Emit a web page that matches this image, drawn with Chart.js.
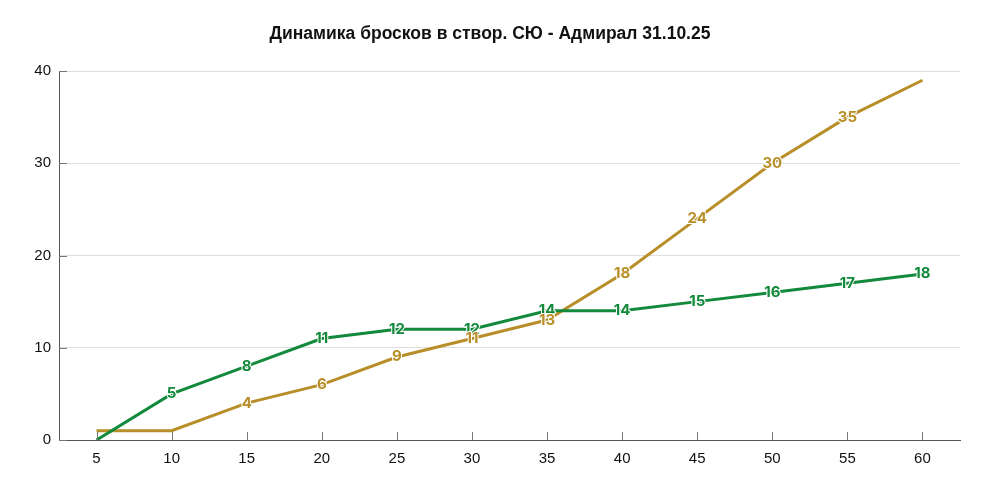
<!DOCTYPE html>
<html>
<head>
<meta charset="utf-8">
<script src="https://cdn.jsdelivr.net/npm/chart.js@4.4.0/dist/chart.umd.min.js"></script>
<style>
  html, body { margin: 0; padding: 0; background: #fff; }
  #wrap { width: 984px; height: 492px; }
</style>
</head>
<body>
<div id="wrap"><canvas id="canvas"></canvas></div>
<script>
// minutes
const minutes = ['5', '10', '15', '20', '25', '30', '35', '40', '45', '50', '55', '60'];
// shots on target, cumulative
const shotsSU = [0, 5, 8, 11, 12, 12, 14, 14, 15, 16, 17, 18];
const shotsAdmiral = [1, 1, 4, 6, 9, 11, 13, 18, 24, 30, 35, 39];
// which points get a value label
const labelsSU = [null, 5, 8, 11, 12, 12, 14, 14, 15, 16, 17, 18];
const labelsAdmiral = [null, null, 4, 6, 9, 11, 13, 18, 24, 30, 35, null];
const yTicks = [0, 10, 20, 30, 40];
const titleText = 'Динамика бросков в створ. СЮ - Адмирал 31.10.25';

const green = '#12893b';
const gold = '#b88e28';

// title centred on the whole canvas, not on the plot
const pageTitle = {
    id: 'pageTitle',
    afterDraw(chart) {
        const ctx = chart.ctx;
        ctx.save();
        ctx.font = 'bold 17.5px "Liberation Sans"';
        ctx.fillStyle = '#111';
        ctx.textAlign = 'center';
        ctx.textBaseline = 'middle';
        ctx.fillText(titleText, 490, 34);
        ctx.restore();
    }
};

// short tick marks drawn inside the plot area
const innerTicks = {
    id: 'innerTicks',
    afterDatasetsDraw(chart) {
        const ctx = chart.ctx;
        const x = chart.scales.x, y = chart.scales.y;
        const a = chart.chartArea;
        ctx.save();
        ctx.strokeStyle = '#777';
        ctx.lineWidth = 1;
        ctx.beginPath();
        minutes.forEach((m, i) => {
            const px = Math.round(x.getPixelForValue(i)) + 0.5;
            ctx.moveTo(px, a.bottom);
            ctx.lineTo(px, a.bottom - 8);
        });
        yTicks.forEach(v => {
            const py = Math.round(y.getPixelForValue(v)) + 0.5;
            ctx.moveTo(a.left, py);
            ctx.lineTo(a.left + 8, py);
        });
        ctx.stroke();
        ctx.restore();
    }
};

const valueLabels = {
    id: 'valueLabels',
    afterDatasetsDraw(chart) {
        const ctx = chart.ctx;
        const sets = [labelsSU, labelsAdmiral];
        ctx.save();
        ctx.font = 'bold 15px Inter';
        ctx.textAlign = 'center';
        ctx.textBaseline = 'middle';
        ctx.lineJoin = 'round';
        chart.data.datasets.forEach((ds, di) => {
            const meta = chart.getDatasetMeta(di);
            meta.data.forEach((pt, i) => {
                const t = sets[di][i];
                if (t === null) return;
                ctx.lineWidth = 2;
                ctx.strokeStyle = '#fff';
                ctx.strokeText(String(t), pt.x, pt.y);
                ctx.fillStyle = ds.borderColor;
                ctx.fillText(String(t), pt.x, pt.y);
            });
        });
        ctx.restore();
    }
};

const ctx = document.getElementById('canvas').getContext('2d');
const myChart = new Chart(ctx, {
    type: 'line',
    data: {
        labels: minutes,
        datasets: [{
            label: 'СЮ',
            data: shotsSU,
            borderColor: green,
            backgroundColor: 'transparent',
            borderWidth: 3,
            pointRadius: 0,
            tension: 0
        }, {
            label: 'Адмирал',
            data: shotsAdmiral,
            borderColor: gold,
            backgroundColor: 'transparent',
            borderWidth: 3,
            pointRadius: 0,
            tension: 0
        }]
    },
    options: {
        responsive: true,
        maintainAspectRatio: false,
        animation: false,
        layout: { padding: { left: 0, right: 24, top: 71, bottom: 0 } },
        plugins: {
            legend: { display: false },
            tooltip: { enabled: false },
            title: { display: false }
        },
        scales: {
            x: {
                offset: true,
                grid: { display: false, drawTicks: false },
                border: { display: true, color: '#555', width: 1 },
                ticks: {
                    color: '#111',
                    font: { family: 'Liberation Sans', size: 15 },
                    padding: 10,
                    maxRotation: 0
                },
                afterFit(scale) { scale.height = 52; }
            },
            y: {
                min: 0,
                max: 40,
                grid: { color: '#dddddd', drawTicks: false },
                border: { display: true, color: '#555', width: 1 },
                ticks: {
                    stepSize: 10,
                    color: '#111',
                    font: { family: 'Liberation Sans', size: 15 },
                    padding: 8
                },
                afterFit(scale) { scale.width = 59; }
            }
        }
    },
    plugins: [pageTitle, innerTicks, valueLabels]
});
</script>
</body>
</html>
